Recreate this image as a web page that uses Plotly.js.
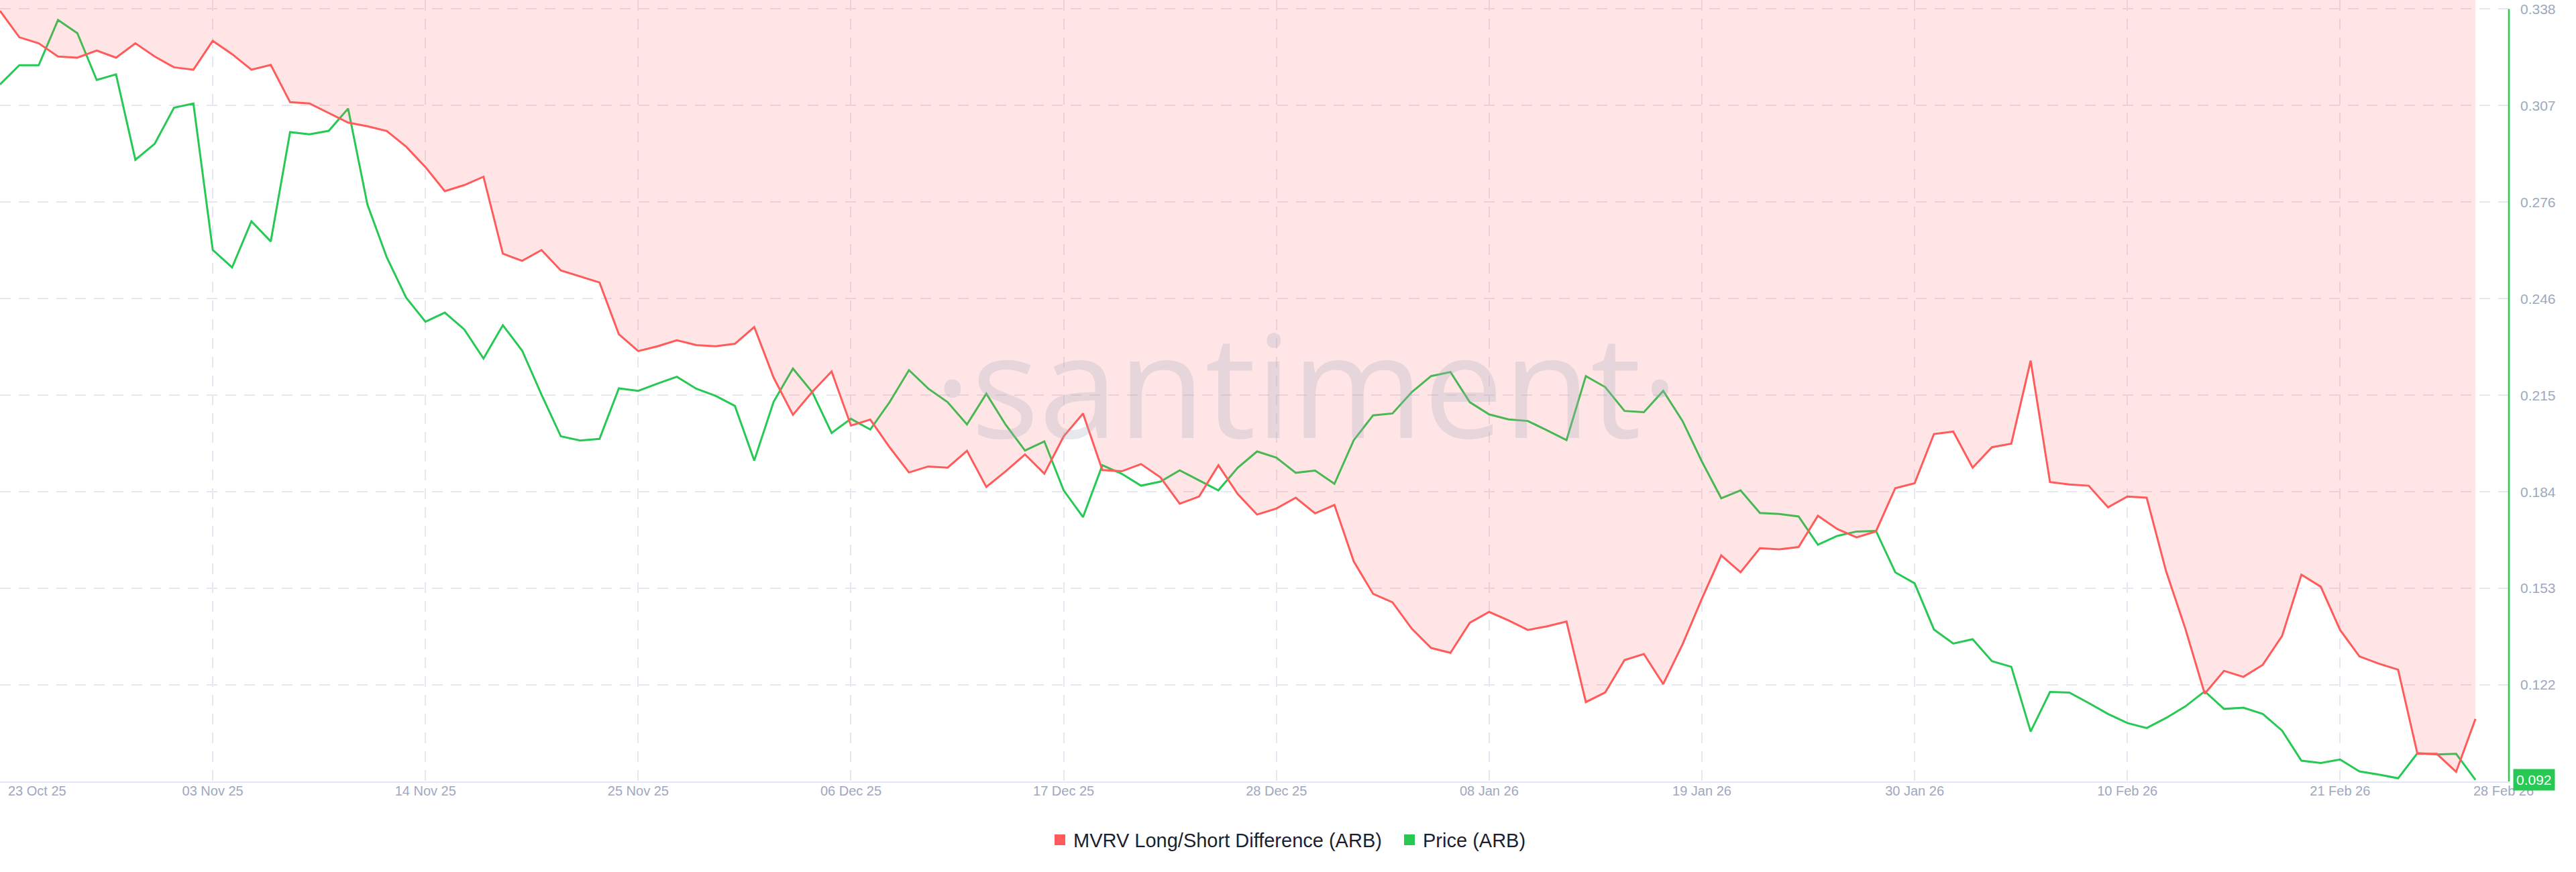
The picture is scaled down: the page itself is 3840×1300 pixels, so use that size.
<!DOCTYPE html>
<html>
<head>
<meta charset="utf-8">
<script src="https://cdn.plot.ly/plotly-3.0.1.min.js"></script>
<style>
html, body { margin: 0; padding: 0; background: #ffffff; }
#chart { width: 3840px; height: 1300px; }
</style>
</head>
<body>
<div id="chart"></div>
<script>
// ---------------- DATA ----------------
const startDate = [2025, 9, 23]; // 23 Oct 2025 (UTC, month index 9 = Oct), daily points

const priceARB = [
  0.3140, 0.3201, 0.3201, 0.3345, 0.3303, 0.3154, 0.3172, 0.2900, 0.2951, 0.3066,
  0.3079, 0.2613, 0.2557, 0.2704, 0.2640, 0.2988, 0.2981, 0.2992, 0.3063, 0.2757,
  0.2589, 0.2461, 0.2384, 0.2413, 0.2360, 0.2267, 0.2373, 0.2292, 0.2152, 0.2019,
  0.2006, 0.2011, 0.2172, 0.2164, 0.2187, 0.2209, 0.2171, 0.2148, 0.2116, 0.1942,
  0.2129, 0.2235, 0.2160, 0.2030, 0.2075, 0.2041, 0.2128, 0.2230, 0.2171, 0.2128,
  0.2057, 0.2155, 0.2056, 0.1974, 0.2003, 0.1847, 0.1762, 0.1927, 0.1900, 0.1862,
  0.1875, 0.1911, 0.1879, 0.1847, 0.1919, 0.1971, 0.1951, 0.1903, 0.1910, 0.1868,
  0.2007, 0.2086, 0.2092, 0.2160, 0.2211, 0.2224, 0.2128, 0.2089, 0.2073, 0.2068,
  0.2038, 0.2007, 0.2211, 0.2176, 0.2100, 0.2096, 0.2164, 0.2068, 0.1939, 0.1822,
  0.1847, 0.1775, 0.1772, 0.1764, 0.1674, 0.1702, 0.1716, 0.1718, 0.1586, 0.1551,
  0.1404, 0.1359, 0.1373, 0.1303, 0.1285, 0.1079, 0.1205, 0.1203, 0.1170, 0.1135,
  0.1106, 0.1090, 0.1122, 0.1159, 0.1207, 0.1151, 0.1155, 0.1135, 0.1082, 0.0986,
  0.0979, 0.0990, 0.0952, 0.0942, 0.0930, 0.1010, 0.1006, 0.1008, 0.0925
];

// MVRV Long/Short Difference (ARB), in %
const mvrvLongShort = [
  -0.9, -3.1, -3.6, -4.7, -4.8, -4.2, -4.8, -3.6, -4.7, -5.6,
  -5.8, -3.4, -4.5, -5.8, -5.4, -8.5, -8.6, -9.4, -10.2, -10.5,
  -10.9, -12.2, -13.9, -15.9, -15.4, -14.7, -21.1, -21.7, -20.8, -22.5,
  -23.0, -23.5, -27.8, -29.2, -28.8, -28.3, -28.7, -28.8, -28.6, -27.2,
  -31.4, -34.5, -32.6, -30.9, -35.4, -34.9, -37.2, -39.3, -38.8, -38.9,
  -37.5, -40.5, -39.2, -37.8, -39.4, -36.3, -34.4, -39.1, -39.2, -38.6,
  -39.7, -41.9, -41.3, -38.7, -41.1, -42.8, -42.3, -41.4, -42.7, -42.0,
  -46.7, -49.4, -50.1, -52.3, -53.9, -54.3, -51.8, -50.9, -51.6, -52.4,
  -52.1, -51.7, -58.4, -57.6, -54.9, -54.4, -56.9, -53.6, -49.8, -46.2,
  -47.6, -45.6, -45.7, -45.5, -42.9, -44.0, -44.7, -44.2, -40.6, -40.2,
  -36.1, -35.9, -38.9, -37.2, -36.9, -30.0, -40.1, -40.3, -40.4, -42.2,
  -41.3, -41.4, -47.5, -52.3, -57.7, -55.8, -56.3, -55.3, -52.9, -47.8,
  -48.8, -52.4, -54.6, -55.2, -55.7, -62.7, -62.7, -64.2, -59.8
];

const tickDates = ['2025-10-23', '2025-11-03', '2025-11-14', '2025-11-25', '2025-12-06', '2025-12-17',
                   '2025-12-28', '2026-01-08', '2026-01-19', '2026-01-30', '2026-02-10', '2026-02-21', '2026-02-28'];
const tickLabels = ['23 Oct 25', '03 Nov 25', '14 Nov 25', '25 Nov 25', '06 Dec 25', '17 Dec 25',
                    '28 Dec 25', '08 Jan 26', '19 Jan 26', '30 Jan 26', '10 Feb 26', '21 Feb 26', '28 Feb 26'];

const priceTickVals = [0.12275, 0.1535, 0.18425, 0.215, 0.24575, 0.2765, 0.30725, 0.338];
const priceTickLabels = ['0.122', '0.153', '0.184', '0.215', '0.246', '0.276', '0.307', '0.338'];
const lastPriceLabel = '0.092';

const seriesNames = ['MVRV Long/Short Difference (ARB)', 'Price (ARB)'];

// ---------------- BUILD ----------------
const dates = priceARB.map((_, i) =>
  new Date(Date.UTC(startDate[0], startDate[1], startDate[2] + i)).toISOString().slice(0, 10));

const RED = '#ff5b5b';
const GREEN = '#26c953';
const AXIS_TXT = '#9ea7c0';
const GRID = '#e6e8f1';
const FONT = 'Liberation Sans, Arial, sans-serif';

const traces = [
  {
    x: dates, y: priceARB, type: 'scatter', mode: 'lines', yaxis: 'y',
    line: { color: GREEN, width: 3 }, showlegend: false, hoverinfo: 'skip'
  },
  {
    x: dates, y: mvrvLongShort, type: 'scatter', mode: 'lines', yaxis: 'y2',
    fill: 'tozeroy', fillcolor: 'rgba(255,91,91,0.155)',
    line: { color: RED, width: 3 }, showlegend: false, hoverinfo: 'skip'
  },
  {
    x: [null], y: [null], type: 'scatter', mode: 'markers', yaxis: 'y2',
    name: seriesNames[0] + '\u00a0\u00a0', marker: { symbol: 'square', size: 19, color: RED }, showlegend: true
  },
  {
    x: [null], y: [null], type: 'scatter', mode: 'markers', yaxis: 'y',
    name: seriesNames[1], marker: { symbol: 'square', size: 19, color: GREEN }, showlegend: true
  }
];

const gridTickVals = tickDates.slice(0, tickDates.length - 1);
const gridTickText = tickLabels.slice(0, tickLabels.length - 1).map((t, i) => i === 0 ? '' : t);

const layout = {
  width: 3840, height: 1300,
  margin: { l: 0, r: 100, t: 0, b: 135, pad: 0 },
  paper_bgcolor: '#ffffff', plot_bgcolor: '#ffffff',
  font: { family: FONT, color: AXIS_TXT, size: 20 },
  xaxis: {
    type: 'date',
    range: ['2025-10-23 00:00', '2026-03-01 17:31'],
    tickmode: 'array', tickvals: gridTickVals, ticktext: gridTickText,
    showgrid: true, gridcolor: GRID, gridwidth: 2, griddash: '16px,12px',
    showline: true, linecolor: '#e4e7f3', linewidth: 2,
    zeroline: false, ticks: '', ticklen: 0,
    tickfont: { family: FONT, size: 20, color: AXIS_TXT },
    ticklabelstandoff: -5,
    fixedrange: true
  },
  yaxis: {
    side: 'right',
    range: [0.092, 0.34088],
    tickmode: 'array', tickvals: priceTickVals, ticktext: priceTickLabels,
    showgrid: true, gridcolor: GRID, gridwidth: 2, griddash: '16px,12px',
    zeroline: false, showline: false, ticks: '',
    tickfont: { family: FONT, size: 21, color: AXIS_TXT },
    ticklabelstandoff: 16,
    fixedrange: true
  },
  yaxis2: {
    overlaying: 'y', side: 'left', visible: false,
    range: [-65, 0], showgrid: false, zeroline: false, fixedrange: true
  },
  legend: {
    orientation: 'h', xref: 'container', yref: 'container',
    x: 0.5, xanchor: 'center', y: 0.0369, yanchor: 'middle',
    font: { family: FONT, size: 29, color: '#1c1f2e' },
    bgcolor: 'rgba(0,0,0,0)', itemclick: false, itemdoubleclick: false
  },
  shapes: [
    {
      type: 'line', xref: 'paper', x0: 1, x1: 1, yref: 'y', y0: 0.092, y1: priceTickVals[priceTickVals.length - 1],
      line: { color: GREEN, width: 2.5 }, layer: 'above'
    }
  ],
  annotations: [
    {
      text: '\u00b7santiment\u00b7', xref: 'paper', yref: 'paper', x: 0.5205, y: 0.51,
      xanchor: 'center', yanchor: 'middle', showarrow: false,
      font: { family: 'Open Sans, sans-serif', size: 212, color: 'rgba(165,172,195,0.28)' }
    },
    {
      text: tickLabels[0], xref: 'x', x: tickDates[0], yref: 'paper', y: 0,
      xanchor: 'left', yanchor: 'top', xshift: 10, yshift: -1, showarrow: false,
      font: { family: FONT, size: 20, color: AXIS_TXT }
    },
    {
      text: tickLabels[tickLabels.length - 1], xref: 'x', x: tickDates[tickDates.length - 1], yref: 'paper', y: 0,
      xanchor: 'left', yanchor: 'top', xshift: -5, yshift: -1, showarrow: false,
      font: { family: FONT, size: 20, color: AXIS_TXT }
    },
    {
      text: lastPriceLabel, xref: 'paper', x: 1, yref: 'y', y: priceARB[priceARB.length - 1],
      xanchor: 'left', yanchor: 'middle', xshift: 6, showarrow: false,
      bgcolor: GREEN, borderpad: 4,
      font: { family: FONT, size: 21, color: '#ffffff' }
    }
  ]
};

Plotly.newPlot('chart', traces, layout, { staticPlot: true, displayModeBar: false });
</script>
</body>
</html>
